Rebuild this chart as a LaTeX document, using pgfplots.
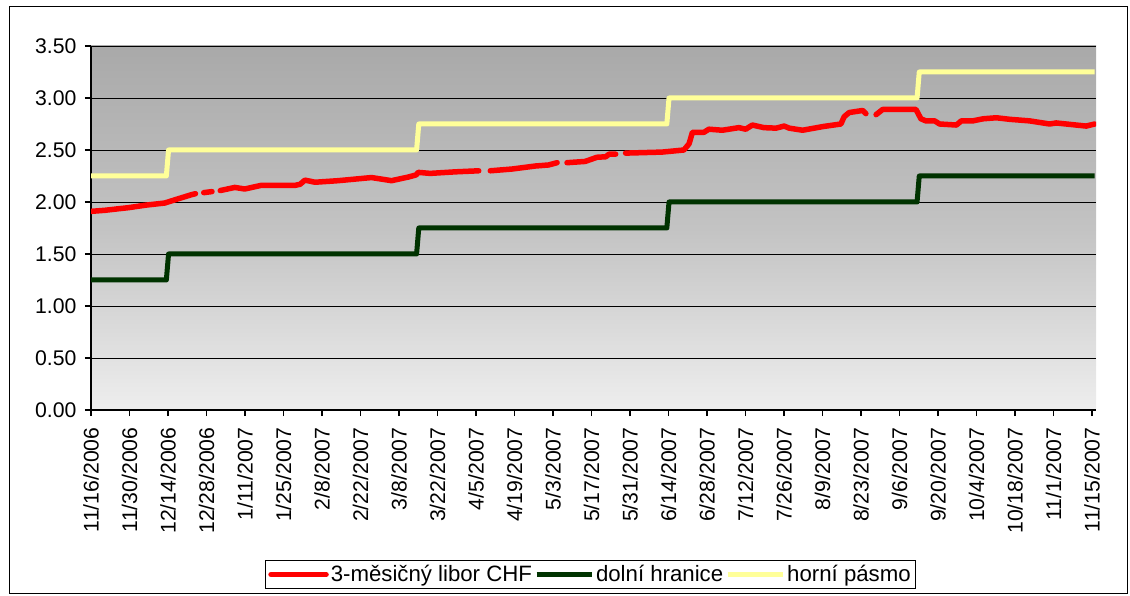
\documentclass[border=0pt]{standalone}
\usepackage{fontspec}
\setmainfont{Liberation Sans}
\usepackage{pgfplots}
\pgfplotsset{compat=1.18}
\definecolor{liborred}{HTML}{FF0000}
\definecolor{lowgreen}{HTML}{003300}
\definecolor{upyellow}{HTML}{FFFF99}
\definecolor{bgtop}{HTML}{A9A9A9}
\definecolor{bgmid}{HTML}{C3C3C3}
\definecolor{bgmidtwo}{HTML}{D4D4D4}
\definecolor{bgbot}{HTML}{EEEEEE}
\pgfdeclareverticalshading{plotbg}{100bp}{color(0bp)=(bgbot); color(25bp)=(bgbot); color(40bp)=(bgmidtwo); color(50bp)=(bgmid); color(75bp)=(bgtop); color(100bp)=(bgtop)}
\begin{document}
\begin{tikzpicture}
\path[use as bounding box] (0bp,0bp) rectangle (1130bp,596bp);
\draw[black, line width=1bp] (9bp,2bp) rectangle (1127bp,589bp);
\begin{axis}[
  at={(91bp,186bp)}, anchor=south west, scale only axis,
  width=1005bp, height=364bp,
  xmin=0, xmax=365.5, ymin=0, ymax=3.5,
  axis lines=left, axis line style={-, line width=1.3bp, black},
  axis background/.style={shading=plotbg},
  /pgf/number format/assume math mode=true,
  ytick={0,0.5,1,1.5,2,2.5,3,3.5},
  yticklabel style={/pgf/number format/.cd, fixed, fixed zerofill, precision=2},
  xtick={0,14,28,42,56,70,84,98,112,126,140,154,168,182,196,210,224,238,252,266,280,294,308,322,336,350,364},
  xticklabels={11/16/2006,11/30/2006,12/14/2006,12/28/2006,1/11/2007,1/25/2007,2/8/2007,2/22/2007,3/8/2007,3/22/2007,4/5/2007,4/19/2007,5/3/2007,5/17/2007,5/31/2007,6/14/2007,6/28/2007,7/12/2007,7/26/2007,8/9/2007,8/23/2007,9/6/2007,9/20/2007,10/4/2007,10/18/2007,11/1/2007,11/15/2007},
  xticklabel style={rotate=90, anchor=east},
  xticklabel shift=8bp, yticklabel shift=5bp,
  tick label style={font=\fontsize{21.3}{25}\selectfont},
  tick align=outside, major tick length=6bp,
  tick style={black, line width=1.2bp},
  ymajorgrids, grid style={black, line width=0.8bp},
  unbounded coords=jump,
  legend columns=3,
  legend style={at={(0.497,-0.452)}, anchor=center, draw=black, line width=1bp,
    font=\fontsize{22.3}{26}\selectfont, inner sep=3bp,
    nodes={inner sep=2bp}},
  legend image code/.code={\draw[#1] (0bp,0bp) -- (55bp,0bp);},
]
\addplot[liborred, line width=5.5bp, line join=round, line cap=round] coordinates {
(0,1.91) (5,1.92) (10,1.935) (13.5,1.945) (20,1.97) (26.8,1.99) (31.6,2.03) (36.5,2.07) (38,2.08)
(39,nan)
(41,2.09) (44,2.10)
(45.5,nan)
(47,2.11) (52.3,2.14) (55.9,2.125) (61.9,2.16) (74.2,2.16) (76,2.17) (77.8,2.21) (81.5,2.19) (89.9,2.205) (102,2.235) (105.7,2.22) (109.3,2.205) (115.4,2.24) (118.2,2.26) (119,2.285) (123.3,2.275) (132.5,2.29) (141,2.30)
(143,nan)
(145.2,2.30) (153.1,2.317) (161.6,2.346) (166.4,2.356) (169.5,2.378)
(171,nan)
(173.1,2.378) (179.7,2.39) (184,2.43) (187.2,2.435) (188.4,2.46) (190.8,2.46)
(192.5,nan)
(194.4,2.47) (207.7,2.48) (215.6,2.50) (217.5,2.56) (218.7,2.67) (222.9,2.67) (224.7,2.70) (229.6,2.69) (235.6,2.715) (238.1,2.70) (240.5,2.74) (244.7,2.715) (249.1,2.71) (252.1,2.73) (253.9,2.71) (258.8,2.69) (266.1,2.725) (272.7,2.75) (273.9,2.82) (275.7,2.86) (280.6,2.88) (281.8,2.85)
(283.5,nan)
(285.5,2.84) (287.9,2.89) (300,2.89) (301.8,2.80) (303.6,2.78) (306.8,2.78) (308.6,2.75) (314.7,2.74) (316.5,2.78) (320.7,2.78) (324.4,2.80) (329.2,2.81) (334.1,2.795) (341.3,2.78) (348.6,2.75) (351,2.76) (361.9,2.73) (365,2.75)
};
\addlegendentry{3-měsičný libor CHF}
\addplot[lowgreen, line width=5bp, line join=round] coordinates {
(0,1.25) (27.4,1.25) (28.2,1.5) (118.4,1.5) (119.2,1.75) (209.4,1.75) (210.2,2.0) (300.4,2.0) (301.2,2.25) (365,2.25)
};
\addlegendentry{dolní hranice}
\addplot[upyellow, line width=5bp, line join=round] coordinates {
(0,2.25) (27.4,2.25) (28.2,2.5) (118.4,2.5) (119.2,2.75) (209.4,2.75) (210.2,3.0) (300.4,3.0) (301.2,3.25) (365,3.25)
};
\addlegendentry{horní pásmo}
\end{axis}
\end{tikzpicture}
\end{document}
